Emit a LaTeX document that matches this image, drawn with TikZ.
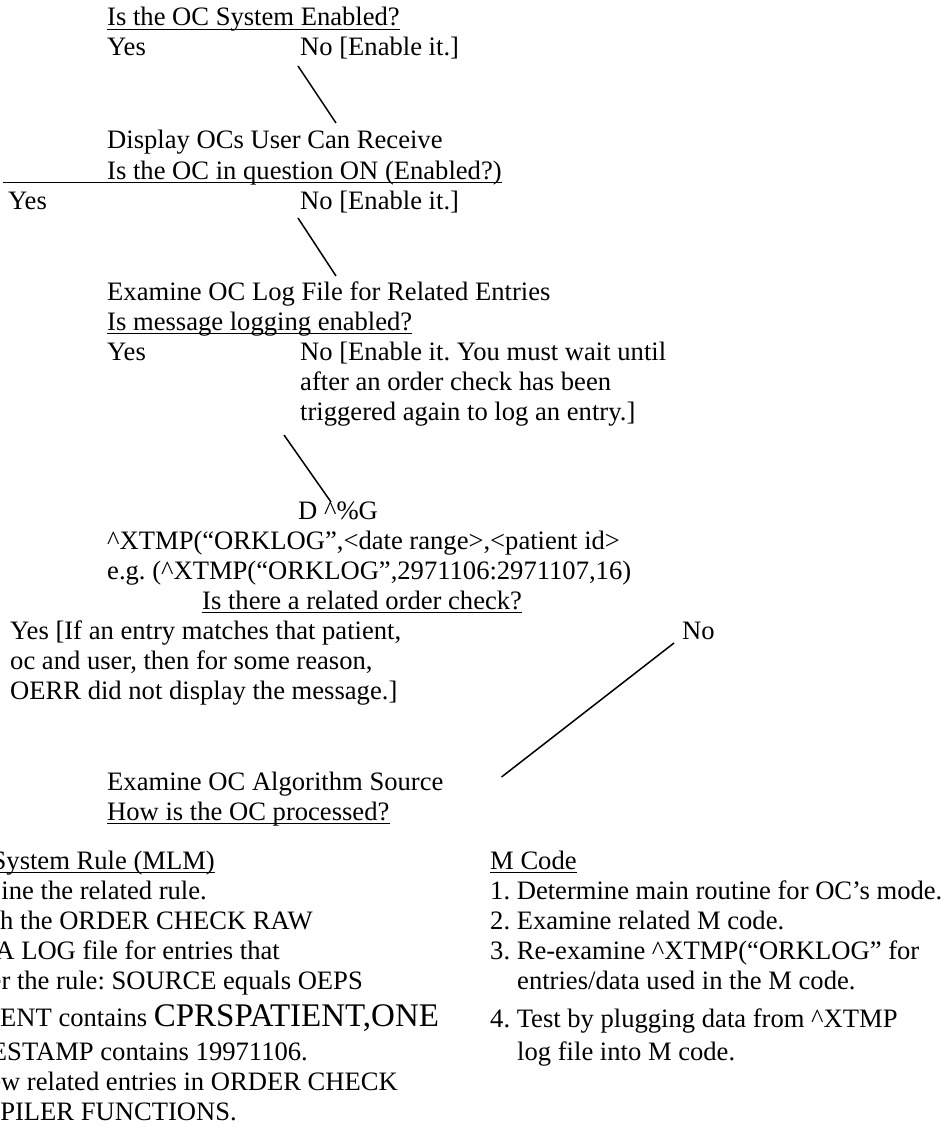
\documentclass[tikz,border=0pt]{standalone}
\usepackage{fontspec}
\setmainfont{Liberation Serif}
\usetikzlibrary{calc}
\begin{document}
\frenchspacing
\begin{tikzpicture}[x=1pt,y=-1pt,
  txt/.style={anchor=base west, inner sep=0pt, font=\fontsize{26.6pt}{30pt}\selectfont\frenchspacing},
  txtr/.style={txt, anchor=base east},
  conn/.style={line width=1.5pt},
  uline/.style={line width=1.3pt}]
\useasboundingbox (0,0) rectangle (944,1126);

% --- question 1
\node[txt] (q1) at (107,26) {Is the OC System Enabled?};
\node[txt] (y1) at (107,56) {Yes};
\node[txt] (n1) at (300,56) {No [Enable it.]};
\node[txt] (d1) at (107,149) {Display OCs User Can Receive};
% --- question 2
\node[txt] (q2) at (107,179) {Is the OC in question ON (Enabled?)};
\node[txt] (y2) at (8,209) {Yes};
\node[txt] (n2) at (300,209) {No [Enable it.]};
\node[txt] (e1) at (107,300) {Examine OC Log File for Related Entries};
% --- question 3
\node[txt] (q3) at (107,330) {Is message logging enabled?};
\node[txt] (y3) at (107,360) {Yes};
\node[txt] (n3a) at (300,360) {No [Enable it. You must wait until};
\node[txt] (n3b) at (300,390) {after an order check has been};
\node[txt] (n3c) at (300,420) {triggered again to log an entry.]};
\node[txt] (d2) at (298,519) {D \textasciicircum\%G};
\node[txt] (x1) at (107,549) {\textasciicircum XTMP(“ORKLOG”,<date range>,<patient id>};
\node[txt] (x2) at (107,579) {e.g. (\textasciicircum XTMP(“ORKLOG”,2971106:2971107,16)};
% --- question 4
\node[txt] (q4) at (202,609) {Is there a related order check?};
\node[txt] (y4a) at (10,639) {Yes [If an entry matches that patient,};
\node[txt] (y4b) at (10,669) {oc and user, then for some reason,};
\node[txt] (y4c) at (10,699) {OERR did not display the message.]};
\node[txt] (n4) at (682,639) {No};
\node[txt] (a1) at (107,790) {Examine OC Algorithm Source};
\node[txt] (q5) at (107,820) {How is the OC processed?};
% --- left column (cut at the page edge, as in the reference)
\node[txtr] (s0) at (215,869) {System Rule (MLM)};
\node[txtr] (s1) at (207,899) {ine the related rule.};
\node[txtr] (s2) at (313,929) {h the ORDER CHECK RAW};
\node[txtr] (s3) at (280,959) {A LOG file for entries that};
\node[txtr] (s4) at (363,989) {er the rule: SOURCE equals OEPS};
\node[txt] (s5) at (0,1026) {ENT contains {\fontsize{33pt}{37pt}\selectfont CPRSPATIENT,ONE}};
\node[txtr] (s6) at (308,1060) {ESTAMP contains 19971106.};
\node[txtr] (s7) at (398,1090) {ew related entries in ORDER CHECK};
\node[txtr] (s8) at (237,1120) {PILER FUNCTIONS.};
% --- right column
\node[txt] (m0) at (490,869) {M Code};
\node[txt] (m1) at (490,899) {1. Determine main routine for OC’s mode.};
\node[txt] (m2) at (490,929) {2. Examine related M code.};
\node[txt] (m3) at (490,959) {3. Re-examine \textasciicircum XTMP(“ORKLOG” for};
\node[txt] (m3b) at (517,989) {entries/data used in the M code.};
\node[txt] (m4) at (490,1027) {4. Test by plugging data from \textasciicircum XTMP};
\node[txt] (m4b) at (517,1060) {log file into M code.};

% --- underlines
\draw[uline] ([yshift=-3.5pt]q1.base west) -- ([yshift=-3.5pt]q1.base east);
\draw[uline] ([xshift=-104pt,yshift=-3.5pt]q2.base west) -- ([yshift=-3.5pt]q2.base east);
\draw[uline] ([yshift=-3.5pt]q3.base west) -- ([yshift=-3.5pt]q3.base east);
\draw[uline] ([yshift=-3.5pt]q4.base west) -- ([yshift=-3.5pt]q4.base east);
\draw[uline] ([yshift=-3.5pt]q5.base west) -- ([yshift=-3.5pt]q5.base east);
\draw[uline] ([xshift=-8pt,yshift=-3.5pt]s0.base west) -- ([yshift=-3.5pt]s0.base east);
\draw[uline] ([yshift=-3.5pt]m0.base west) -- ([yshift=-3.5pt]m0.base east);

% --- connectors
\draw[conn] ([shift={(-2,10)}]n1.base west) -- ([shift={(229,-26)}]d1.base west);
\draw[conn] ([shift={(-2,9)}]n2.base west) -- ([shift={(229,-24)}]e1.base west);
\draw[conn] ([shift={(-16,15)}]n3c.base west) -- ([shift={(33,-17)}]d2.base west);
\draw[conn] ([shift={(-8,4)}]n4.base west) -- ([shift={(58,-13)}]a1.base east);
\end{tikzpicture}
\end{document}
